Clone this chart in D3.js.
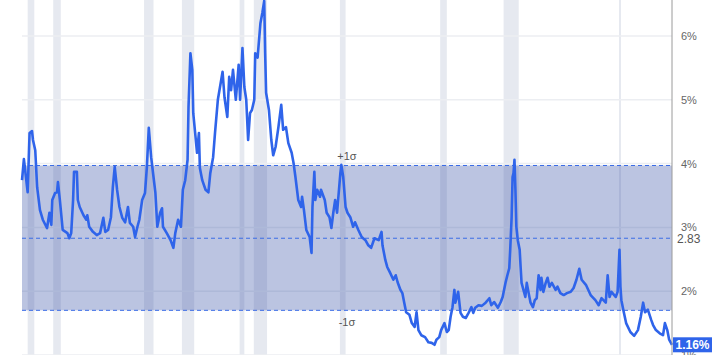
<!DOCTYPE html>
<html>
<head>
<meta charset="utf-8">
<script src="https://cdn.jsdelivr.net/npm/d3@7"></script>
<style>
  html, body { margin: 0; padding: 0; background: #fff; }
  svg { display: block; font-family: "Liberation Sans", Arial, sans-serif; }
</style>
</head>
<body>
<div id="chart"></div>
<script>
// yield series (decimal year, percent)
var years = [
  1957.0, 1957.2, 1957.6, 1957.8, 1958.06, 1958.16, 1958.4, 1958.6, 1958.9, 1959.2,
  1959.65, 1959.9, 1960.1, 1960.2, 1960.5, 1960.7, 1960.8, 1961.0, 1961.2, 1961.3,
  1961.8, 1962.0, 1962.2, 1962.4, 1962.5, 1962.8, 1962.9, 1963.1, 1963.5, 1963.8,
  1963.9, 1964.1, 1964.5, 1964.9, 1965.25, 1965.6, 1965.8, 1966.1, 1966.4, 1966.6,
  1966.8, 1967.05, 1967.3, 1967.6, 1967.9, 1968.2, 1968.4, 1968.75, 1968.95, 1969.2,
  1969.4, 1969.7, 1970.0, 1970.2, 1970.4, 1970.65, 1970.9, 1971.1, 1971.3, 1971.6,
  1971.8, 1971.9, 1972.3, 1972.7, 1973.0, 1973.2, 1973.5, 1973.8, 1974.0, 1974.25,
  1974.5, 1974.6, 1974.8, 1975.0, 1975.1, 1975.3, 1975.5, 1975.7, 1975.8, 1976.05,
  1976.4, 1976.7, 1976.9, 1977.2, 1977.4, 1977.7, 1978.2, 1978.4, 1978.7, 1978.9,
  1979.1, 1979.3, 1979.6, 1979.9, 1980.05, 1980.3, 1980.5, 1980.7, 1980.9, 1981.1,
  1981.3, 1981.55, 1981.65, 1981.9, 1982.2, 1982.4, 1982.6, 1982.7, 1982.8, 1983.1,
  1983.35, 1983.55, 1983.8, 1984.1, 1984.4, 1984.6, 1984.9, 1985.15, 1985.5, 1985.7,
  1985.9, 1986.2, 1986.5, 1986.6, 1986.8, 1987.05, 1987.4, 1987.6, 1987.7, 1987.9,
  1988.0, 1988.2, 1988.5, 1988.6, 1989.0, 1989.2, 1989.5, 1989.7, 1989.9, 1990.1,
  1990.3, 1990.65, 1990.75, 1990.95, 1991.2, 1991.4, 1991.7, 1992.0, 1992.2, 1992.55,
  1992.9, 1993.3, 1993.6, 1993.9, 1994.25, 1994.7, 1995.0, 1995.1, 1995.4, 1995.6,
  1995.9, 1996.25, 1996.5, 1996.7, 1997.0, 1997.2, 1997.4, 1997.6, 1997.95, 1998.2,
  1998.5, 1998.7, 1998.9, 1999.2, 1999.6, 1999.95, 2000.3, 2000.6, 2000.8, 2001.1,
  2001.3, 2001.65, 2001.9, 2002.1, 2002.3, 2002.5, 2002.7, 2002.8, 2003.1, 2003.35,
  2003.6, 2003.9, 2004.2, 2004.5, 2004.7, 2004.9, 2005.25, 2005.6, 2006.0, 2006.4,
  2006.6, 2006.9, 2007.3, 2007.6, 2007.8, 2008.1, 2008.3, 2008.5, 2008.6, 2008.75,
  2008.85, 2008.95, 2009.05, 2009.15, 2009.25, 2009.4, 2009.6, 2009.7, 2009.8, 2010.0,
  2010.2, 2010.35, 2010.55, 2010.75, 2011.0, 2011.2, 2011.4, 2011.6, 2011.8, 2011.9,
  2012.1, 2012.35, 2012.55, 2012.75, 2013.0, 2013.4, 2013.6, 2013.9, 2014.25, 2014.6,
  2015.0, 2015.3, 2015.6, 2015.9, 2016.15, 2016.6, 2017.1, 2017.6, 2017.95, 2018.25,
  2018.7, 2018.9, 2019.1, 2019.3, 2019.75, 2019.95, 2020.15, 2020.25, 2020.35, 2020.55,
  2020.85, 2021.3, 2021.7, 2022.1, 2022.4, 2022.65, 2022.85, 2023.15, 2023.5, 2023.7,
  2024.0, 2024.4, 2024.75, 2024.95, 2025.2, 2025.4, 2025.7
];
var values = [
  3.74, 4.07, 3.55, 4.48, 4.51, 4.37, 4.21, 3.63, 3.27, 3.12,
  2.99, 3.23, 3.04, 3.43, 3.54, 3.55, 3.71, 3.43, 3.12, 2.96,
  2.91, 2.83, 2.91, 3.43, 3.87, 3.87, 3.43, 3.32, 3.19, 3.12,
  3.19, 3.01, 2.93, 2.88, 2.91, 3.15, 2.93, 2.96, 3.16, 3.63,
  3.95, 3.59, 3.32, 3.15, 3.08, 3.32, 3.07, 3.01, 2.85, 3.01,
  3.12, 3.43, 3.54, 3.95, 4.56, 4.10, 3.79, 3.54, 3.01, 3.23,
  3.30, 3.01, 2.91, 2.80, 2.68, 2.91, 3.12, 3.01, 3.59, 3.74,
  4.06, 4.89, 5.73, 5.47, 4.79, 4.48, 4.17, 4.48, 3.93, 3.74,
  3.59, 3.55, 3.85, 4.10, 4.48, 5.00, 5.44, 5.04, 4.73, 5.36,
  5.15, 5.47, 5.00, 5.55, 5.00, 5.81, 5.20, 5.00, 4.37, 4.79,
  4.84, 5.00, 5.73, 5.66, 6.20, 6.36, 6.55, 5.73, 5.11, 4.84,
  4.37, 4.13, 4.26, 4.57, 4.92, 4.53, 4.57, 4.32, 4.17, 4.01,
  3.79, 3.43, 3.32, 3.48, 3.27, 2.96, 2.85, 2.60, 3.32, 3.87,
  3.43, 3.59, 3.48, 3.59, 3.43, 3.23, 3.16, 2.99, 3.23, 3.43,
  3.23, 3.85, 3.98, 3.79, 3.32, 3.23, 3.16, 3.01, 3.08, 2.96,
  2.85, 2.80, 2.72, 2.68, 2.83, 2.80, 2.93, 2.72, 2.49, 2.38,
  2.29, 2.18, 2.25, 2.14, 2.02, 1.97, 1.82, 1.67, 1.63, 1.50,
  1.44, 1.67, 1.39, 1.31, 1.28, 1.20, 1.19, 1.16, 1.24, 1.28,
  1.39, 1.50, 1.36, 1.39, 1.60, 1.75, 2.02, 1.82, 1.99, 1.66,
  1.60, 1.58, 1.66, 1.75, 1.66, 1.74, 1.78, 1.77, 1.82, 1.89,
  1.78, 1.83, 1.74, 1.83, 1.91, 2.13, 2.25, 2.36, 2.65, 3.16,
  3.79, 3.85, 4.06, 3.59, 3.01, 2.80, 2.65, 2.38, 2.13, 2.02,
  1.91, 2.13, 1.97, 1.82, 1.75, 1.86, 1.89, 2.25, 2.02, 2.21,
  1.99, 2.13, 2.21, 2.07, 2.13, 2.02, 2.07, 1.97, 1.94, 1.97,
  1.99, 2.05, 2.18, 2.35, 2.18, 2.10, 1.94, 1.86, 1.78, 1.89,
  1.82, 2.25, 1.91, 1.99, 1.91, 1.99, 2.65, 2.07, 1.86, 1.71,
  1.50, 1.36, 1.30, 1.39, 1.60, 1.82, 1.67, 1.71, 1.55, 1.47,
  1.39, 1.34, 1.31, 1.50, 1.39, 1.24, 1.16
];

// recession periods (start, end)
var recStart = [1957.6, 1960.3, 1969.9, 1973.9, 1980.0, 1981.5, 1990.6, 2001.2, 2007.9, 2020.1];
var recEnd   = [1958.3, 1961.1, 1970.9, 1975.2, 1980.5, 1982.9, 1991.2, 2001.9, 2009.5, 2020.3];

var yTicks = [1, 2, 3, 4, 5, 6];
var meanValue = 2.83;
var upperValue = 3.97;   // +1 sigma
var lowerValue = 1.70;   // -1 sigma
var lastValue = 1.16;

var width = 717, height = 355;
var left = 22, right = 672;

var svg = d3.select('#chart')
  .append('svg')
  .attr('width', width)
  .attr('height', height);

var x = d3.scaleLinear().domain([1957.0, 2025.7]).range([left, right]);
var y = d3.scaleLinear().domain([1, 6]).range([355, 36]);

// recession shading
svg.append('g')
  .selectAll('rect')
  .data(recStart)
  .enter().append('rect')
    .attr('x', function(d) { return x(d); })
    .attr('y', 0)
    .attr('width', function(d, i) { return Math.max(2, x(recEnd[i]) - x(d)); })
    .attr('height', height)
    .attr('fill', '#e6e9f0');

// horizontal grid
svg.append('g')
  .selectAll('line')
  .data(yTicks)
  .enter().append('line')
    .attr('x1', left)
    .attr('x2', right)
    .attr('y1', function(d) { return y(d); })
    .attr('y2', function(d) { return y(d); })
    .attr('stroke', '#eceef2')
    .attr('stroke-width', 1.5);

// +-1 sigma band
svg.append('rect')
  .attr('x', left)
  .attr('y', y(upperValue))
  .attr('width', right - left)
  .attr('height', y(lowerValue) - y(upperValue))
  .attr('fill', 'rgb(60,85,170)')
  .attr('fill-opacity', 0.35);

svg.append('g')
  .selectAll('line')
  .data([upperValue, meanValue, lowerValue])
  .enter().append('line')
    .attr('x1', left)
    .attr('x2', right)
    .attr('y1', function(d) { return y(d); })
    .attr('y2', function(d) { return y(d); })
    .attr('stroke', '#3b6de6')
    .attr('stroke-width', 1)
    .attr('stroke-dasharray', '4,3');

// the series
var line = d3.line()
  .x(function(d) { return x(d); })
  .y(function(d, i) { return y(values[i]); });

svg.append('path')
  .datum(years)
  .attr('d', line)
  .attr('fill', 'none')
  .attr('stroke', '#2f64ea')
  .attr('stroke-width', 2.6)
  .attr('stroke-linejoin', 'round');

// right axis
var axis = svg.append('g')
  .attr('transform', 'translate(' + right + ',0)')
  .call(d3.axisRight(y).tickValues(yTicks).tickSize(0).tickPadding(9)
    .tickFormat(function(d) { return d + '%'; }));
axis.select('.domain').remove();
axis.selectAll('text')
  .attr('fill', '#666')
  .style('font-size', '11px');

svg.append('line')
  .attr('x1', right).attr('x2', right)
  .attr('y1', 0).attr('y2', height)
  .attr('stroke', '#9a9a9a')
  .attr('stroke-width', 1);

// mean label
svg.append('text')
  .attr('x', right + 5)
  .attr('y', y(meanValue) + 5)
  .attr('fill', '#555')
  .style('font-size', '12px')
  .text(meanValue.toFixed(2));

// sigma labels
svg.append('text')
  .attr('x', 347)
  .attr('y', y(upperValue) - 6)
  .attr('text-anchor', 'middle')
  .attr('fill', '#555')
  .style('font-size', '11px')
  .text('+1σ');

svg.append('text')
  .attr('x', 347)
  .attr('y', y(lowerValue) + 16)
  .attr('text-anchor', 'middle')
  .attr('fill', '#555')
  .style('font-size', '11px')
  .text('-1σ');

// last value tag
var tag = svg.append('g')
  .attr('transform', 'translate(' + (right + 1) + ',' + y(lastValue) + ')');
tag.append('rect')
  .attr('x', 0)
  .attr('y', -7.5)
  .attr('width', 39)
  .attr('height', 15)
  .attr('fill', '#2f64ea');
tag.append('text')
  .attr('x', 19.5)
  .attr('y', 4.5)
  .attr('text-anchor', 'middle')
  .attr('fill', '#fff')
  .style('font-size', '12px')
  .style('font-weight', 'bold')
  .text(lastValue.toFixed(2) + '%');
</script>
</body>
</html>
